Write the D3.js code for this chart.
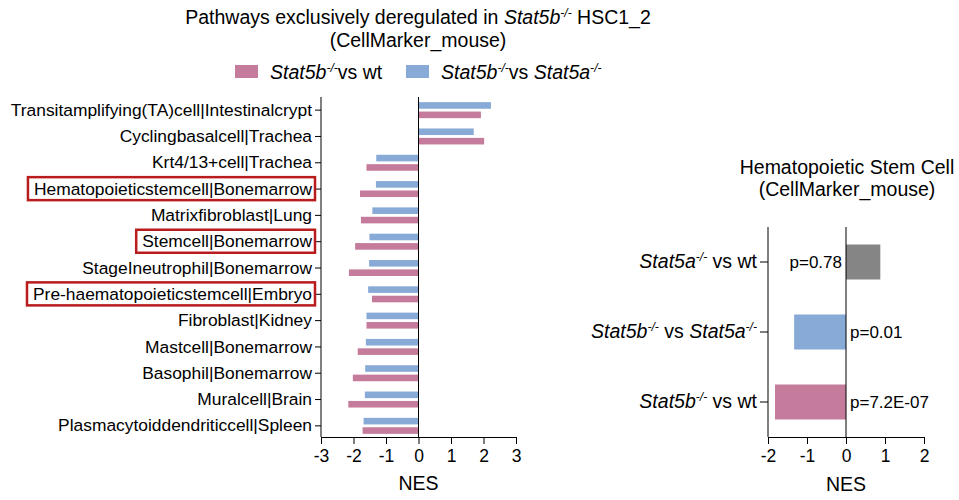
<!DOCTYPE html>
<html>
<head>
<meta charset="utf-8">
<script src="https://cdn.jsdelivr.net/npm/d3@7"></script>
<style>
  body { margin: 0; background: #fff; }
  svg { display: block; font-family: "Liberation Sans", Arial, sans-serif; }
</style>
</head>
<body>
<div id="chart"></div>
<script>
// left panel: pathways (top to bottom)
const pathways = [
    "Transitamplifying(TA)cell|Intestinalcrypt",
    "Cyclingbasalcell|Trachea",
    "Krt4/13+cell|Trachea",
    "Hematopoieticstemcell|Bonemarrow",
    "Matrixfibroblast|Lung",
    "Stemcell|Bonemarrow",
    "StageIneutrophil|Bonemarrow",
    "Pre-haematopoieticstemcell|Embryo",
    "Fibroblast|Kidney",
    "Mastcell|Bonemarrow",
    "Basophil|Bonemarrow",
    "Muralcell|Brain",
    "Plasmacytoiddendriticcell|Spleen"
];
const highlighted = [
    "Hematopoieticstemcell|Bonemarrow",
    "Stemcell|Bonemarrow",
    "Pre-haematopoieticstemcell|Embryo"
];
const nesBvsA = [2.23, 1.70, -1.30, -1.31, -1.42, -1.51, -1.52, -1.55, -1.60, -1.62, -1.64, -1.65, -1.69];
const nesBvsWt = [1.92, 2.02, -1.60, -1.80, -1.77, -1.95, -2.14, -1.43, -1.60, -1.87, -2.02, -2.16, -1.72];
const leftSeries = ["Stat5b-/-vs wt", "Stat5b-/-vs Stat5a-/-"];
const leftTicks = [-3, -2, -1, 0, 1, 2, 3];

// right panel: hematopoietic stem cell
const comparisons = ["Stat5a-/- vs wt", "Stat5b-/- vs Stat5a-/-", "Stat5b-/- vs wt"];
const hscNes = [0.88, -1.33, -1.82];
const hscP = ["p=0.78", "p=0.01", "p=7.2E-07"];
const rightTicks = [-2, -1, 0, 1, 2];

const colors = { wt: "#c47b9c", a: "#88aad6", grey: "#858585", box: "#b81c1c" };

const width = 959, height = 500;
const fs = { title: 19.5, label: 17.4, tick: 17.5, p: 17 };

const svg = d3.select("#chart").append("svg")
    .attr("width", width)
    .attr("height", height);

// writes "Stat5b-/-" style text with italic gene and superscript
function rich(text, str, size) {
    text.text(null);
    const re = /(Stat5[ab])(-\/-)?/g;
    let last = 0, m, shifted = false;
    const add = (s, italic, sup) => {
        const t = text.append("tspan").text(s);
        if (italic) t.attr("font-style", "italic");
        if (sup) t.attr("font-size", size * 0.62).attr("dy", -size * 0.38);
        else if (shifted) t.attr("dy", size * 0.38);
        shifted = !!sup;
    };
    while ((m = re.exec(str)) !== null) {
        if (m.index > last) add(str.slice(last, m.index), false, false);
        add(m[1], true, false);
        if (m[2]) add(m[2], true, true);
        last = re.lastIndex;
    }
    if (last < str.length) add(str.slice(last), false, false);
}

// ---------- left panel ----------
const L = { left: 321, right: 516, top: 97, bottom: 437 };
const x1 = d3.scaleLinear().domain([-3, 3]).range([L.left, L.right]);
const y1 = d3.scaleBand().domain(pathways).range([L.top, L.bottom + 2]);
const sub = d3.scaleBand().domain(["a", "wt"]).range([-8, 8]).paddingInner(0.3);

const lt = svg.append("text")
    .attr("x", 418).attr("y", 24)
    .attr("text-anchor", "middle")
    .attr("font-size", fs.title);
rich(lt, "Pathways exclusively deregulated in Stat5b-/- HSC1_2", fs.title);
svg.append("text")
    .attr("x", 418).attr("y", 47)
    .attr("text-anchor", "middle")
    .attr("font-size", fs.title)
    .text("(CellMarker_mouse)");

// legend
const legend = svg.append("g").selectAll("g")
    .data(leftSeries)
    .join("g")
    .attr("transform", (d, i) => `translate(${[235, 406][i]},65)`);
legend.append("rect")
    .attr("width", 23).attr("height", 13)
    .attr("fill", (d, i) => i === 0 ? colors.wt : colors.a);
legend.append("text")
    .attr("x", 35).attr("y", 14)
    .attr("font-size", fs.title)
    .each(function (d) { rich(d3.select(this), d, fs.title); });

const rows = svg.append("g").selectAll("g")
    .data(pathways)
    .join("g")
    .attr("transform", d => `translate(0,${y1(d) + y1.bandwidth() / 2})`);
rows.append("rect")
    .attr("x", (d, i) => x1(Math.min(0, nesBvsA[i])))
    .attr("y", sub("a"))
    .attr("width", (d, i) => Math.abs(x1(nesBvsA[i]) - x1(0)))
    .attr("height", sub.bandwidth())
    .attr("fill", colors.a);
rows.append("rect")
    .attr("x", (d, i) => x1(Math.min(0, nesBvsWt[i])))
    .attr("y", sub("wt"))
    .attr("width", (d, i) => Math.abs(x1(nesBvsWt[i]) - x1(0)))
    .attr("height", sub.bandwidth())
    .attr("fill", colors.wt);

svg.append("line")
    .attr("x1", x1(0)).attr("x2", x1(0))
    .attr("y1", L.top).attr("y2", L.bottom)
    .attr("stroke", "#000");

const yAxisL = svg.append("g")
    .attr("transform", `translate(${L.left},0)`)
    .call(d3.axisLeft(y1).tickSizeOuter(0).tickSize(6).tickPadding(3));
yAxisL.select(".domain").attr("d", `M0,${L.top}V${L.bottom}`);
yAxisL.selectAll("text").attr("font-size", fs.label).attr("font-family", null).attr("fill", "#000");

const xAxisL = svg.append("g")
    .attr("transform", `translate(0,${L.bottom})`)
    .call(d3.axisBottom(x1).tickValues(leftTicks).tickFormat(d => String(d))
        .tickSizeOuter(0).tickSize(7).tickPadding(6));
xAxisL.selectAll("text").attr("font-size", fs.tick).attr("font-family", null).attr("fill", "#000");
svg.append("text")
    .attr("x", x1(0)).attr("y", 490)
    .attr("text-anchor", "middle")
    .attr("font-size", fs.title)
    .text("NES");

// red boxes round highlighted labels
yAxisL.selectAll(".tick")
    .filter(d => highlighted.includes(d))
    .each(function (d) {
        const b = d3.select(this).select("text").node().getBBox();
        const ty = y1(d) + y1.bandwidth() / 2;
        svg.append("rect")
            .attr("x", L.left + b.x - 6)
            .attr("y", ty + b.y - 1.5)
            .attr("width", -b.x)
            .attr("height", b.height + 3)
            .attr("fill", "none")
            .attr("stroke", colors.box)
            .attr("stroke-width", 2.5);
    });

// ---------- right panel ----------
const R = { left: 768, right: 924, top: 227, bottom: 437 };
const x2 = d3.scaleLinear().domain([-2, 2]).range([R.left, R.right]);
const y2 = d3.scaleBand().domain(comparisons).range([R.top, R.bottom])
    .paddingInner(0.5).paddingOuter(0.25);

svg.append("text")
    .attr("x", 847).attr("y", 174)
    .attr("text-anchor", "middle")
    .attr("font-size", fs.title)
    .text("Hematopoietic Stem Cell");
svg.append("text")
    .attr("x", 847).attr("y", 196)
    .attr("text-anchor", "middle")
    .attr("font-size", fs.title)
    .text("(CellMarker_mouse)");

svg.append("g").selectAll("rect")
    .data(comparisons)
    .join("rect")
    .attr("x", (d, i) => x2(Math.min(0, hscNes[i])))
    .attr("y", d => y2(d))
    .attr("width", (d, i) => Math.abs(x2(hscNes[i]) - x2(0)))
    .attr("height", y2.bandwidth())
    .attr("fill", (d, i) => [colors.grey, colors.a, colors.wt][i]);

svg.append("g").selectAll("text")
    .data(comparisons)
    .join("text")
    .attr("x", (d, i) => hscNes[i] > 0 ? x2(0) - 4 : x2(0) + 4)
    .attr("y", d => y2(d) + y2.bandwidth() / 2)
    .attr("dy", "0.35em")
    .attr("text-anchor", (d, i) => hscNes[i] > 0 ? "end" : "start")
    .attr("font-size", fs.p)
    .text((d, i) => hscP[i]);

svg.append("line")
    .attr("x1", x2(0)).attr("x2", x2(0))
    .attr("y1", R.top).attr("y2", R.bottom)
    .attr("stroke", "#000");

const yAxisR = svg.append("g")
    .attr("transform", `translate(${R.left},0)`)
    .call(d3.axisLeft(y2).tickSizeOuter(0).tickSize(8).tickPadding(3));
yAxisR.select(".domain").attr("d", `M0,${R.top}V${R.bottom}`);
yAxisR.selectAll("text")
    .attr("font-size", fs.title).attr("font-family", null).attr("fill", "#000")
    .each(function (d) { rich(d3.select(this), d, fs.title); });

const xAxisR = svg.append("g")
    .attr("transform", `translate(0,${R.bottom})`)
    .call(d3.axisBottom(x2).tickValues(rightTicks).tickFormat(d => String(d))
        .tickSizeOuter(0).tickSize(7).tickPadding(6));
xAxisR.selectAll("text").attr("font-size", fs.tick).attr("font-family", null).attr("fill", "#000");
svg.append("text")
    .attr("x", x2(0)).attr("y", 491)
    .attr("text-anchor", "middle")
    .attr("font-size", fs.title)
    .text("NES");
</script>
</body>
</html>
